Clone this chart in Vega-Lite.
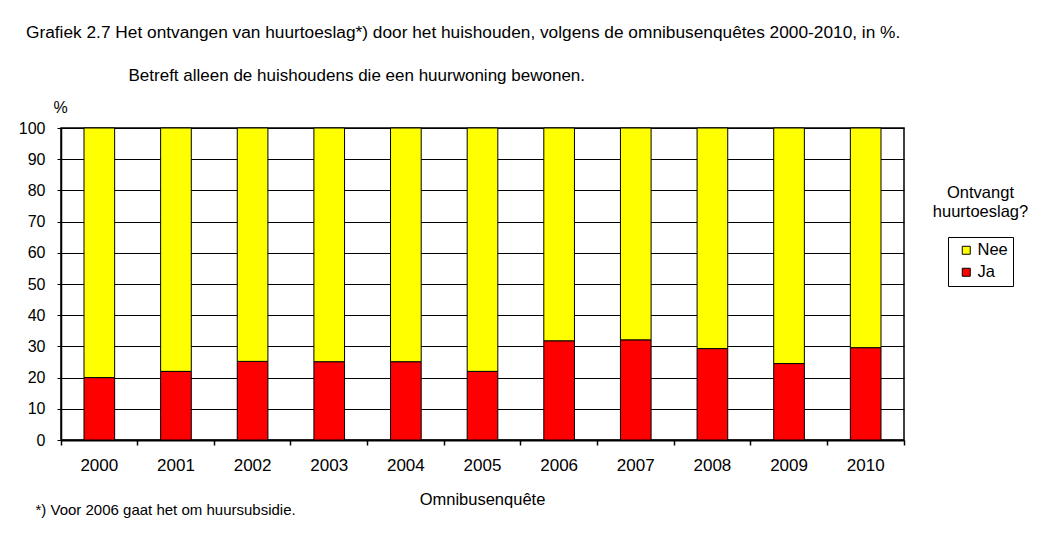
{
  "$schema": "https://vega.github.io/schema/vega-lite/v6.json",
  "width": 843,
  "height": 312,
  "autosize": {"type": "none"},
  "padding": {"left": 61, "top": 128, "right": 142, "bottom": 99},
  "background": "white",
  "title": {
    "text": "Grafiek 2.7 Het ontvangen van huurtoeslag*) door het huishouden, volgens de omnibusenquêtes 2000-2010, in %.",
    "anchor": "start",
    "frame": "group",
    "dx": -35,
    "offset": 25,
    "fontSize": 17.3,
    "fontWeight": "normal",
    "font": "Liberation Sans",
    "color": "#000000"
  },
  "data": {
    "values": [
      {"year": "2000", "antwoord": "Ja", "pct": 20.0},
      {"year": "2000", "antwoord": "Nee", "pct": 80.0},
      {"year": "2001", "antwoord": "Ja", "pct": 22.0},
      {"year": "2001", "antwoord": "Nee", "pct": 78.0},
      {"year": "2002", "antwoord": "Ja", "pct": 25.2},
      {"year": "2002", "antwoord": "Nee", "pct": 74.8},
      {"year": "2003", "antwoord": "Ja", "pct": 25.1},
      {"year": "2003", "antwoord": "Nee", "pct": 74.9},
      {"year": "2004", "antwoord": "Ja", "pct": 25.1},
      {"year": "2004", "antwoord": "Nee", "pct": 74.9},
      {"year": "2005", "antwoord": "Ja", "pct": 22.0},
      {"year": "2005", "antwoord": "Nee", "pct": 78.0},
      {"year": "2006", "antwoord": "Ja", "pct": 31.8},
      {"year": "2006", "antwoord": "Nee", "pct": 68.2},
      {"year": "2007", "antwoord": "Ja", "pct": 32.1},
      {"year": "2007", "antwoord": "Nee", "pct": 67.9},
      {"year": "2008", "antwoord": "Ja", "pct": 29.3},
      {"year": "2008", "antwoord": "Nee", "pct": 70.7},
      {"year": "2009", "antwoord": "Ja", "pct": 24.5},
      {"year": "2009", "antwoord": "Nee", "pct": 75.5},
      {"year": "2010", "antwoord": "Ja", "pct": 29.6},
      {"year": "2010", "antwoord": "Nee", "pct": 70.4}
    ]
  },
  "layer": [
    {
      "mark": {"type": "bar", "stroke": "black", "strokeWidth": 1, "width": {"band": 0.4}},
      "encoding": {
        "x": {
          "field": "year",
          "type": "ordinal",
          "scale": {"paddingInner": 0, "paddingOuter": 0},
          "axis": {
            "orient": "bottom",
            "title": "Omnibusenquête",
            "titleFontSize": 16.5,
            "titleX": 421,
            "titleY": 59,
            "titleBaseline": "middle",
            "titleAlign": "center",
            "labelAngle": 0,
            "labelPadding": 12,
            "labelFontSize": 17,
            "ticks": true,
            "bandPosition": 1,
            "tickExtra": true,
            "tickSize": 5,
            "tickWidth": 1.5,
            "tickColor": "#000000",
            "tickOpacity": 1,
            "domainColor": "black",
            "domainWidth": 2,
            "grid": false
          }
        },
        "y": {
          "field": "pct",
          "type": "quantitative",
          "stack": "zero",
          "scale": {"domain": [0, 100], "nice": false},
          "axis": {
            "orient": "left",
            "title": "%",
            "titleFontSize": 16,
            "titleAngle": 0,
            "titleX": -1,
            "titleY": -21,
            "titleAlign": "center",
            "titleBaseline": "middle",
            "values": [0, 10, 20, 30, 40, 50, 60, 70, 80, 90, 100],
            "labelPadding": 12,
            "labelFontSize": 16,
            "tickSize": 4,
            "tickColor": "black",
            "domainColor": "black",
            "domainWidth": 1.5,
            "grid": true,
            "gridColor": "black",
            "gridWidth": 1,
            "gridOpacity": 1
          }
        },
        "color": {
          "field": "antwoord",
          "type": "nominal",
          "scale": {"domain": ["Nee", "Ja"], "range": ["#FFFF00", "#FF0000"]},
          "legend": {
            "orient": "none",
            "legendX": 887,
            "legendY": 109,
            "title": null,
            "direction": "vertical",
            "symbolType": "square",
            "symbolSize": 64,
            "symbolStrokeColor": "black",
            "symbolStrokeWidth": 1,
            "labelFontSize": 16.5,
            "labelColor": "black",
            "strokeColor": "black",
            "fillColor": "white",
            "padding": 5,
            "rowPadding": 5,
            "symbolOffset": 5,
            "labelOffset": 3,
            "cornerRadius": 0
          }
        },
        "order": {"field": "antwoord", "type": "nominal", "sort": "ascending"}
      }
    },
    {
      "mark": {"type": "bar", "opacity": 0, "width": {"band": 0.4}},
      "encoding": {
        "x": {
          "field": "year",
          "type": "ordinal",
          "axis": {
            "orient": "bottom",
            "labels": false,
            "ticks": false,
            "domain": false,
            "grid": false,
            "title": "*) Voor 2006 gaat het om huursubsidie.",
            "titleFontSize": 15,
            "titleX": -26,
            "titleY": 69,
            "titleAlign": "left",
            "titleBaseline": "middle"
          }
        },
        "y": {
          "field": "pct",
          "type": "quantitative",
          "stack": "zero",
          "axis": {
            "orient": "right",
            "labels": false,
            "ticks": false,
            "domain": false,
            "grid": false,
            "title": ["Ontvangt", "huurtoeslag?"],
            "titleFontSize": 16.5,
            "titleAngle": 0,
            "titleX": 76,
            "titleY": 56,
            "titleAlign": "center",
            "titleBaseline": "top",
            "titleLineHeight": 19
          }
        }
      }
    },
    {
      "mark": {"type": "bar", "opacity": 0, "width": {"band": 0.4}},
      "encoding": {
        "x": {
          "field": "year",
          "type": "ordinal",
          "axis": {
            "orient": "top",
            "labels": false,
            "ticks": false,
            "domain": false,
            "grid": false,
            "title": "Betreft alleen de huishoudens die een huurwoning bewonen.",
            "titleFontSize": 17,
            "titleX": 67,
            "titleY": -53,
            "titleAlign": "left",
            "titleBaseline": "middle"
          }
        },
        "y": {
          "field": "pct",
          "type": "quantitative",
          "stack": "zero",
          "axis": null
        }
      }
    }
  ],
  "resolve": {"axis": {"x": "independent", "y": "independent"}},
  "config": {
    "font": "Liberation Sans",
    "view": {"stroke": "black", "strokeWidth": 1.5},
    "axis": {
      "labelColor": "black",
      "titleColor": "black",
      "titleFontWeight": "normal",
      "titleFontSize": 15,
      "labelFont": "Liberation Sans",
      "titleFont": "Liberation Sans"
    },
    "legend": {"labelFont": "Liberation Sans"}
  }
}
